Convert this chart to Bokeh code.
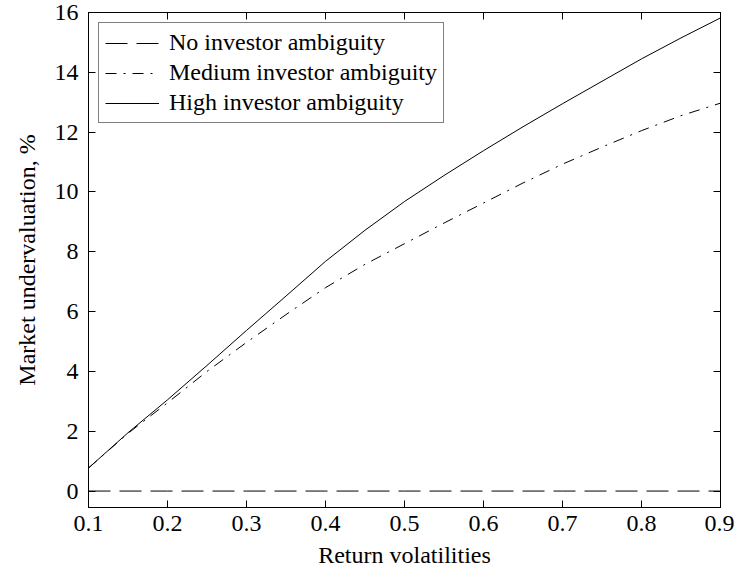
from bokeh.plotting import figure
from bokeh.models import (LinearAxis, FixedTicker, CustomJSTickFormatter, Range1d,
                          Legend, LegendItem)
from bokeh.embed import file_html
from bokeh.resources import INLINE

# ---- data ----
volatility = [0.10, 0.15, 0.20, 0.25, 0.30, 0.35, 0.40, 0.45, 0.50,
              0.55, 0.60, 0.65, 0.70, 0.75, 0.80, 0.85, 0.90]
no_ambiguity = [0.0] * len(volatility)
medium_ambiguity = [0.77, 1.93, 2.95, 4.00, 4.97, 5.90, 6.80, 7.58, 8.27,
                    8.96, 9.63, 10.30, 10.93, 11.50, 12.05, 12.55, 12.97]
high_ambiguity = [0.77, 1.95, 3.05, 4.20, 5.37, 6.52, 7.68, 8.72, 9.68,
                  10.55, 11.38, 12.18, 12.95, 13.70, 14.45, 15.15, 15.82]
x_ticks = [0.1, 0.2, 0.3, 0.4, 0.5, 0.6, 0.7, 0.8, 0.9]
y_ticks = [0, 2, 4, 6, 8, 10, 12, 14, 16]
series_labels = ["No investor ambiguity", "Medium investor ambiguity",
                 "High investor ambiguity"]

FONT = "'Liberation Serif', 'Times New Roman', serif"
FS = "24px"

p = figure(width=734, height=570, output_backend="svg", toolbar_location=None,
           x_range=Range1d(0.1, 0.9), y_range=Range1d(-0.55, 16),
           x_axis_label="Return volatilities",
           y_axis_label="Market undervaluation, %",
           min_border_left=88, min_border_right=14, min_border_top=12,
           min_border_bottom=60)
p.background_fill_color = "white"
p.border_fill_color = "white"
p.outline_line_color = "black"
p.outline_line_width = 1
p.xgrid.visible = False
p.ygrid.visible = False

r_no = p.line(volatility, no_ambiguity, line_color="black", line_width=1,
              line_dash="22 9")
r_med = p.line(volatility, medium_ambiguity, line_color="black", line_width=1,
               line_dash="11 7 2 7")
r_high = p.line(volatility, high_ambiguity, line_color="black", line_width=1)

def style_axis(ax):
    ax.axis_line_color = "black"
    ax.major_tick_line_color = "black"
    ax.major_tick_in = 7
    ax.major_tick_out = 0
    ax.minor_tick_line_color = None
    ax.major_label_text_font = FONT
    ax.major_label_text_font_size = FS
    ax.major_label_text_color = "black"
    ax.axis_label_text_font = FONT
    ax.axis_label_text_font_size = FS
    ax.axis_label_text_font_style = "normal"
    ax.axis_label_text_color = "black"

xa = p.xaxis[0]
xa.ticker = FixedTicker(ticks=x_ticks)
xa.major_label_overrides = {t: f"{t:.1f}" for t in x_ticks}
style_axis(xa)
xa.major_label_standoff = 8
xa.axis_label_standoff = 8

ya = p.yaxis[0]
ya.ticker = FixedTicker(ticks=y_ticks)
style_axis(ya)
ya.major_label_standoff = 10
ya.axis_label_standoff = 12

blank = CustomJSTickFormatter(code="return ''")
top = LinearAxis(ticker=FixedTicker(ticks=x_ticks), formatter=blank)
style_axis(top)
top.major_label_standoff = 0
p.add_layout(top, "above")
right = LinearAxis(ticker=FixedTicker(ticks=y_ticks), formatter=blank)
style_axis(right)
right.major_label_standoff = 0
p.add_layout(right, "right")

legend = Legend(items=[LegendItem(label=series_labels[0], renderers=[r_no]),
                       LegendItem(label=series_labels[1], renderers=[r_med]),
                       LegendItem(label=series_labels[2], renderers=[r_high])],
                location="top_left")
legend.margin = 10
legend.padding = 6
legend.spacing = 3
legend.glyph_width = 54
legend.glyph_height = 24
legend.label_height = 24
legend.label_standoff = 10
legend.label_text_font = FONT
legend.label_text_font_size = FS
legend.label_text_color = "black"
legend.border_line_color = "black"
legend.border_line_width = 1
legend.background_fill_color = "white"
legend.background_fill_alpha = 1
p.add_layout(legend)

open("out.html", "w").write(file_html(p, INLINE))
